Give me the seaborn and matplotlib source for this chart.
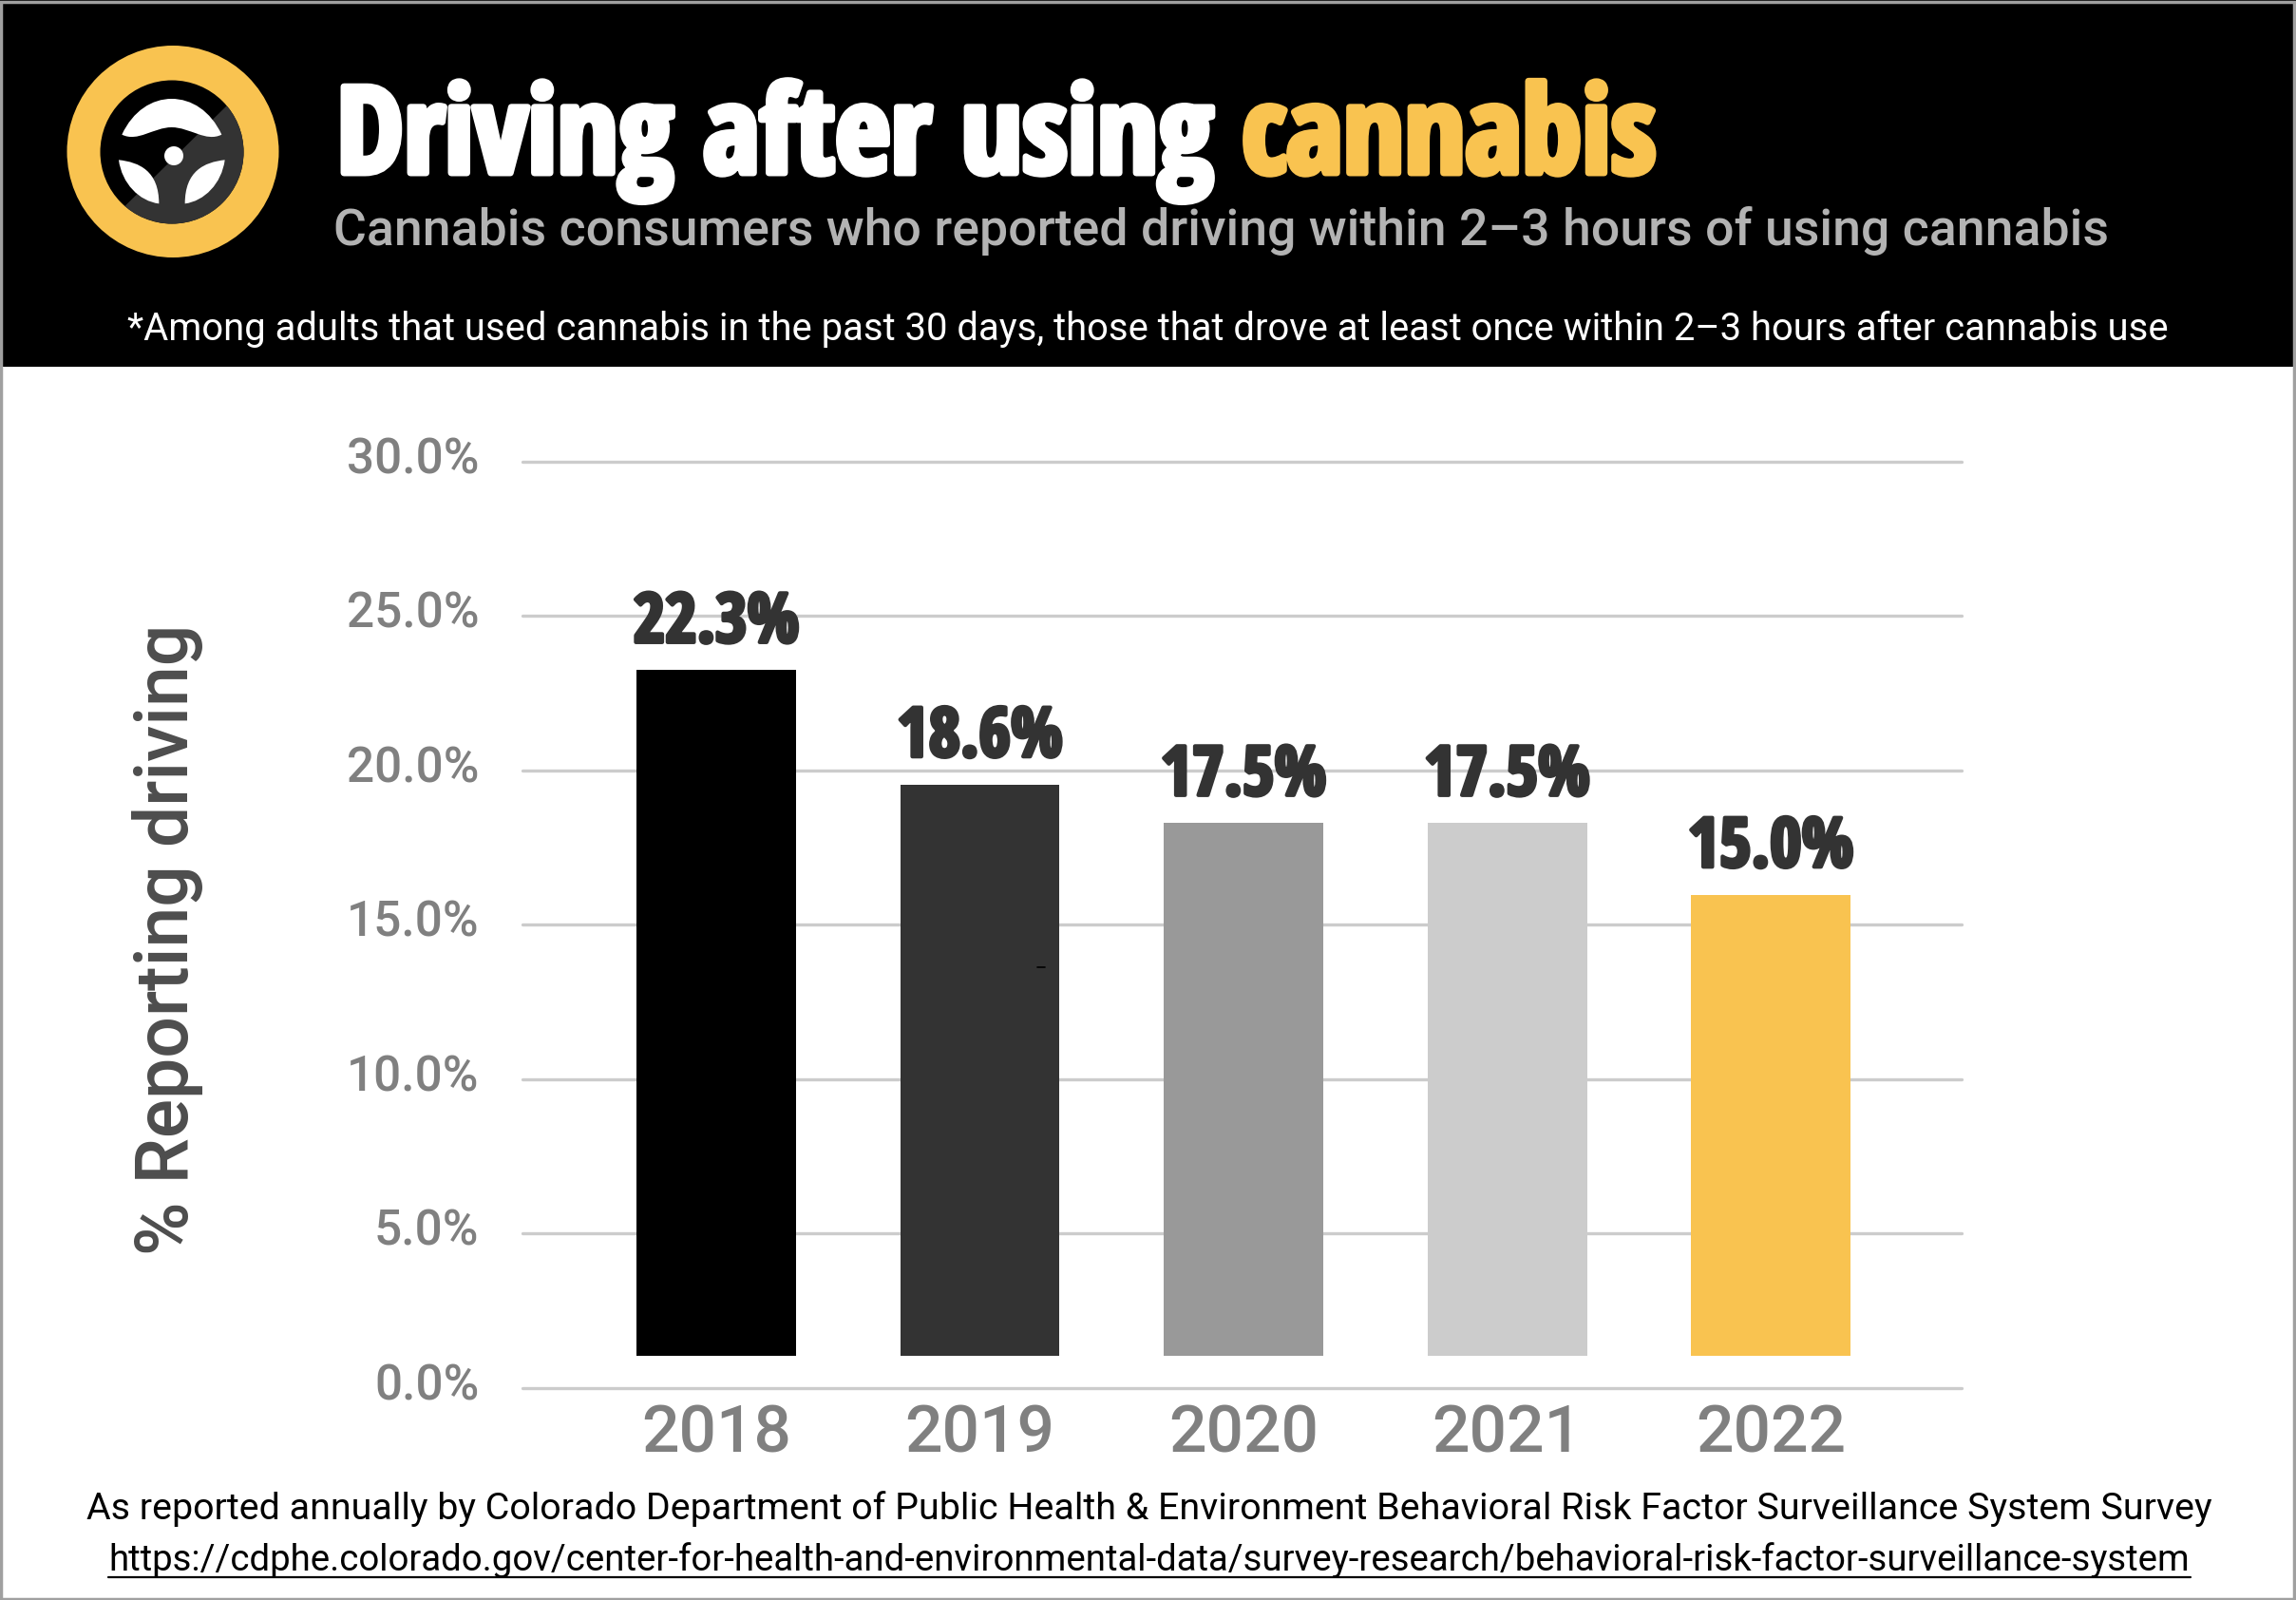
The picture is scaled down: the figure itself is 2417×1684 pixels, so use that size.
#!/usr/bin/env python3
import matplotlib
matplotlib.use('Agg')
import matplotlib.pyplot as plt
import matplotlib.patheffects as pe
import seaborn as sns
from matplotlib.patches import Circle, PathPatch, Polygon, Rectangle
from matplotlib.path import Path
from matplotlib.transforms import ScaledTranslation

W, H = 2417, 1684
DPI = 100

years = ['2018', '2019', '2020', '2021', '2022']
# bar lengths as drawn in the picture, a little off the printed labels
values = [22.2, 18.5, 17.25, 17.25, 14.93]
value_labels = ['22.3%', '18.6%', '17.5%', '17.5%', '15.0%']
bar_colors = ['#000000', '#333333', '#999999', '#cccccc', '#f9c350']
y_ticks = [0, 5, 10, 15, 20, 25, 30]
y_tick_labels = ['0.0%', '5.0%', '10.0%', '15.0%', '20.0%', '25.0%', '30.0%']

# the bars in the original float about one point above the axis line
BAR_BASE = 1.04

HEAVY = 'Open Sans Condensed'
BODY = 'Roboto'
GOLD = '#f9c350'
GREY = '#808080'

sns.set_theme(style='white')
plt.rcParams['font.family'] = BODY

fig = plt.figure(figsize=(W / DPI, H / DPI), dpi=DPI, facecolor='white')

# overlay in pixel coordinates for the banner, icon and footer
over = fig.add_axes([0, 0, 1, 1], zorder=0)
over.set_xlim(0, W)
over.set_ylim(H, 0)
over.axis('off')

ax = fig.add_axes([550 / W, 1 - 1461 / H, 1515 / W, (1461 - 485.6) / H], zorder=1)
ax.patch.set_alpha(0)

sns.barplot(x=years, y=values, hue=years, palette=bar_colors, legend=False,
            width=0.605, saturation=1, bottom=BAR_BASE, linewidth=0, zorder=3, ax=ax)
ax.set_xlim(-0.735, 4.724)
ax.set_ylim(0, 30)
ax.set_yticks(y_ticks)
ax.set_yticklabels(y_tick_labels)
ax.grid(axis='y', color='#cccccc', lw=2.4, zorder=0)
ax.set_axisbelow(True)
for line in ax.get_ygridlines():
    line.set_clip_on(False)
sns.despine(ax=ax, left=True, bottom=True)
ax.tick_params(axis='both', length=0)
ax.tick_params(axis='y', pad=33, labelsize=37, labelcolor=GREY)
ax.tick_params(axis='x', pad=11, labelsize=50, labelcolor=GREY)
for lab in ax.get_yticklabels():
    lab.set_fontweight('medium')
    lab.set_transform(lab.get_transform() + ScaledTranslation(0, 5 / 72, fig.dpi_scale_trans))
for lab in ax.get_xticklabels():
    lab.set_fontweight('medium')

for cont, lab in zip(ax.containers, value_labels):
    ax.bar_label(cont, labels=[lab], padding=9, fontsize=52, color='#333333',
                 family=HEAVY, weight='bold', zorder=5,
                 path_effects=[pe.withStroke(linewidth=3, foreground='#333333')])

# banner
over.add_patch(Rectangle((0, 0), W, 386, fc='black', ec='none', zorder=1))

# steering wheel, coordinates below are from a 3x crop of the icon
def z(*pts):
    return [(px / 3, py / 3) for px, py in pts]

over.add_patch(Circle((182, 159.5), 111.5, fc=GOLD, ec='none', zorder=2))
inner = Circle((181, 160), 75.5, fc='black', ec='none', zorder=3)
over.add_patch(inner)
half = Polygon(z((730, 320), (380, 665), (800, 800), (850, 400)), fc='#333333', ec='none', zorder=4)
over.add_patch(half)
half.set_clip_path(inner)

C = Path.CURVE4
top = Path(z((385, 425), (420, 350), (480, 312), (542, 312), (605, 312), (665, 350), (700, 425),
             (650, 450), (600, 402), (542, 402), (485, 402), (435, 450), (385, 425)),
           [Path.MOVETO] + [C] * 12)
left = Path(z((375, 505), (440, 512), (502, 540), (502, 643), (440, 635), (385, 580), (375, 505)),
            [Path.MOVETO] + [C] * 6)
right = Path(z((710, 505), (645, 512), (584, 540), (584, 643), (645, 635), (700, 580), (710, 505)),
             [Path.MOVETO] + [C] * 6)
for shape in (top, left, right):
    over.add_patch(PathPatch(shape, fc='white', ec='none', zorder=5))
over.add_patch(Circle((183, 164), 10, fc='white', ec='none', zorder=5))


def fit_text(x, y, s, width, size=40, ha='left', **kw):
    t = over.text(x, y, s, fontsize=size, ha=ha, va='baseline', zorder=6, **kw)
    ext = t.get_window_extent(fig.canvas.get_renderer())
    t.set_fontsize(size * width / ext.width)
    return t


stroke = [pe.withStroke(linewidth=5, foreground='white')]
t1 = fit_text(354, 182, 'Driving after using', 922, family=HEAVY, weight='bold',
              color='white', path_effects=stroke)
over.text(1307, 182, 'cannabis', fontsize=t1.get_fontsize(), family=HEAVY, weight='bold', color=GOLD,
          va='baseline', zorder=6, path_effects=[pe.withStroke(linewidth=5, foreground=GOLD)])

fit_text(351, 258, 'Cannabis consumers who reported driving within 2\u20133 hours of using cannabis',
         1866, color='#b3b3b3', weight='medium')
fit_text(134, 358, '*Among adults that used cannabis in the past 30 days, those that drove at least '
         'once within 2\u20133 hours after cannabis use', 2151, color='white')

# footer
fit_text(91, 1599, 'As reported annually by Colorado Department of Public Health & Environment '
         'Behavioral Risk Factor Surveillance System Survey', 2237, color='black')
fit_text(114, 1653, 'https://cdphe.colorado.gov/center-for-health-and-environmental-data/survey-research/'
         'behavioral-risk-factor-surveillance-system', 2192, color='black')
over.plot([114, 2306], [1660, 1660], color='black', lw=1.6, zorder=6)

# y axis title
yl = over.text(177, 989, '% Reporting driving', rotation=90, ha='center', va='center',
               fontsize=50, color='#4d4d4d', weight='medium', zorder=6)
ext = yl.get_window_extent(fig.canvas.get_renderer())
yl.set_fontsize(50 * 664 / ext.height)

# stray mark on the 2019 bar in the source image
top_ax = fig.add_axes([0, 0, 1, 1], zorder=2)
top_ax.set_xlim(0, W)
top_ax.set_ylim(H, 0)
top_ax.axis('off')
top_ax.plot([1092, 1100], [1018, 1018], color='black', lw=1.2)

# image border
top_ax.add_patch(Rectangle((1.5, 1.5), W - 3, H - 3, fc='none', ec='#a0a0a0', lw=2.5))

fig.savefig('out.png', dpi=DPI)
